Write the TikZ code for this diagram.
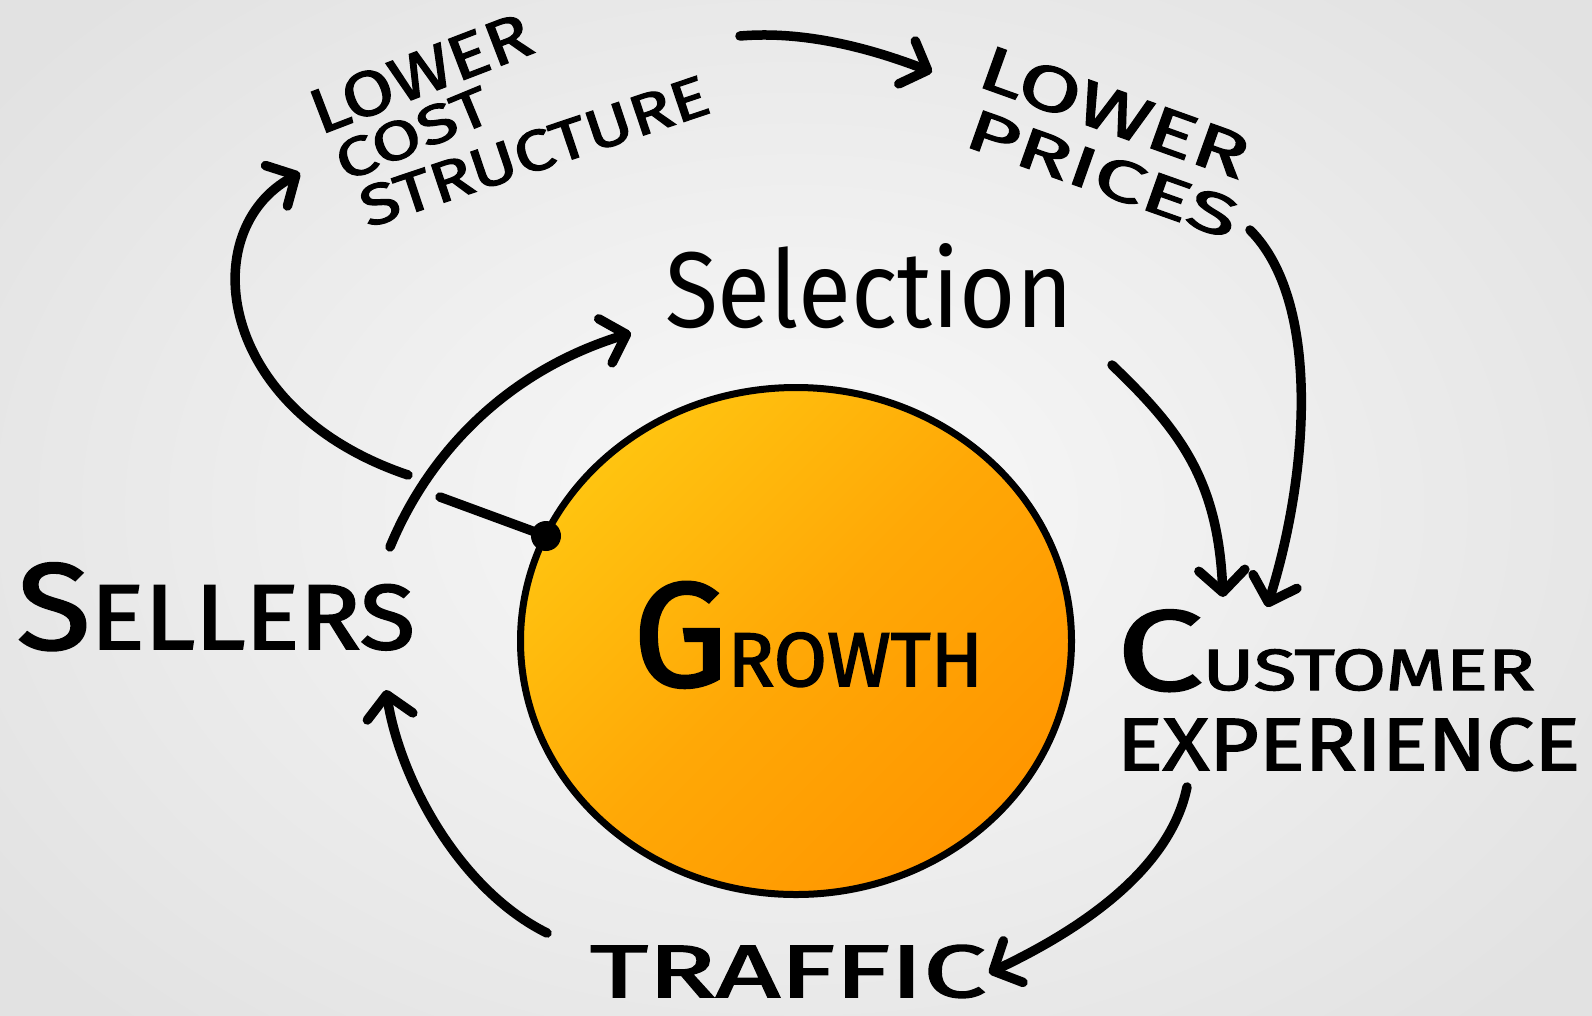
\documentclass[tikz,border=0pt]{standalone}
\usepackage{fontspec}
\usepackage{graphicx}
\setmainfont{Fira Sans}
\newfontfamily\handfont[FakeBold=2]{Fira Sans}
\usetikzlibrary{arrows.meta,shapes.geometric}
\definecolor{bgin}{RGB}{249,249,249}
\definecolor{bgout}{RGB}{226,226,226}
\definecolor{orA}{RGB}{255,196,16}
\definecolor{orB}{RGB}{255,168,6}
\definecolor{orC}{RGB}{255,150,0}
\newcommand\fitbox[3]{\resizebox{#1pt}{#2pt}{#3}}
\newcommand\fs[1]{\fontsize{#1}{#1}\selectfont}
\begin{document}
\begin{tikzpicture}[x=1pt,y=-1pt,
  lbl/.style={inner sep=0pt, outer sep=0pt, anchor=base west, font=\handfont},
  ink/.style={line width=9.5pt, line cap=round, line join=round},
  flow/.style={ink, -{Straight Barb[length=22pt,width=46pt,round]}}]
\useasboundingbox (0,0) rectangle (1592,1015);
\shade[inner color=bgin, outer color=bgout] (-200,-200) rectangle (1792,1215);

% central ball
\node[draw=black, ellipse, line width=7pt, minimum width=551pt, minimum height=507pt,
      top color=orA, bottom color=orC, middle color=orB, shading angle=45] (ball) at (796,641) {};
\node[lbl] (growth) at (633,686) {\fitbox{350}{104}{\fs{142}G\fs{73}ROWTH}};
\node[circle, fill=black, inner sep=0pt, minimum size=30pt] (dot) at (546,536) {};

% labels
\node[lbl, font=\rmfamily] (selection) at (665,327) {\fitbox{408}{84}{\fs{100}Selection}};
\node[lbl] (sellers) at (17,649) {\fitbox{398}{86}{\fs{120}S\fs{90}ELLERS}};
\node[lbl] (cust) at (1117,690) {\fitbox{418}{80}{\fs{110}C\fs{56}USTOMER}};
\node[lbl] (exper) at (1117,770) {\fitbox{463}{52}{\fs{75}EXPERIENCE}};
\node[lbl] (traffic) at (590,997) {\fitbox{396}{52}{\fs{80}TRAFFIC}};
\node[lbl, rotate=21] (lowerA) at (320,135) {\fitbox{232}{44}{\fs{66}LOWER}};
\node[lbl, rotate=22.5] (cost) at (345,182) {\fitbox{162}{38}{\fs{58}COST}};
\node[lbl, rotate=18.6] (struct) at (368,228) {\fitbox{364}{40}{\fs{60}STRUCTURE}};
\node[lbl, rotate=-19.7] (lowerB) at (975,85) {\fitbox{281}{44}{\fs{66}LOWER}};
\node[lbl, rotate=-19.5] (prices) at (962,145) {\fitbox{284}{40}{\fs{60}PRICES}};

% connector end points
\coordinate (a1s) at (740,36);   \coordinate (a1e) at (932,72);
\coordinate (a2s) at (1250,230); \coordinate (a2e) at (1267,607);
\coordinate (a3s) at (1112,365); \coordinate (a3e) at (1223,597);
\coordinate (a4s) at (1187,787); \coordinate (a4e) at (989,973);
\coordinate (a5s) at (547,933);  \coordinate (a5e) at (386,690);
\coordinate (a6s) at (390,547);  \coordinate (a6e) at (631,333);
\coordinate (a7s) at (408,475);  \coordinate (a7e) at (300,173);
\coordinate (l8s) at (440,497);

% connectors
\draw[flow] (a1s) .. controls (810,30) and (880,52) .. (a1e);
\draw[flow] (a2s) .. controls (1320,300) and (1310,470) .. (a2e);
\draw[flow] (a3s) .. controls (1180,430) and (1218,480) .. (a3e);
\draw[flow] (a4s) .. controls (1170,870) and (1080,930) .. (a4e);
\draw[flow] (a5s) .. controls (460,890) and (400,780) .. (a5e);
\draw[flow] (a6s) .. controls (430,450) and (510,370) .. (a6e);
\draw[flow] (a7s) .. controls (215,410) and (195,230) .. (a7e);
\draw[ink] (l8s) -- (dot.center);
\end{tikzpicture}
\end{document}
